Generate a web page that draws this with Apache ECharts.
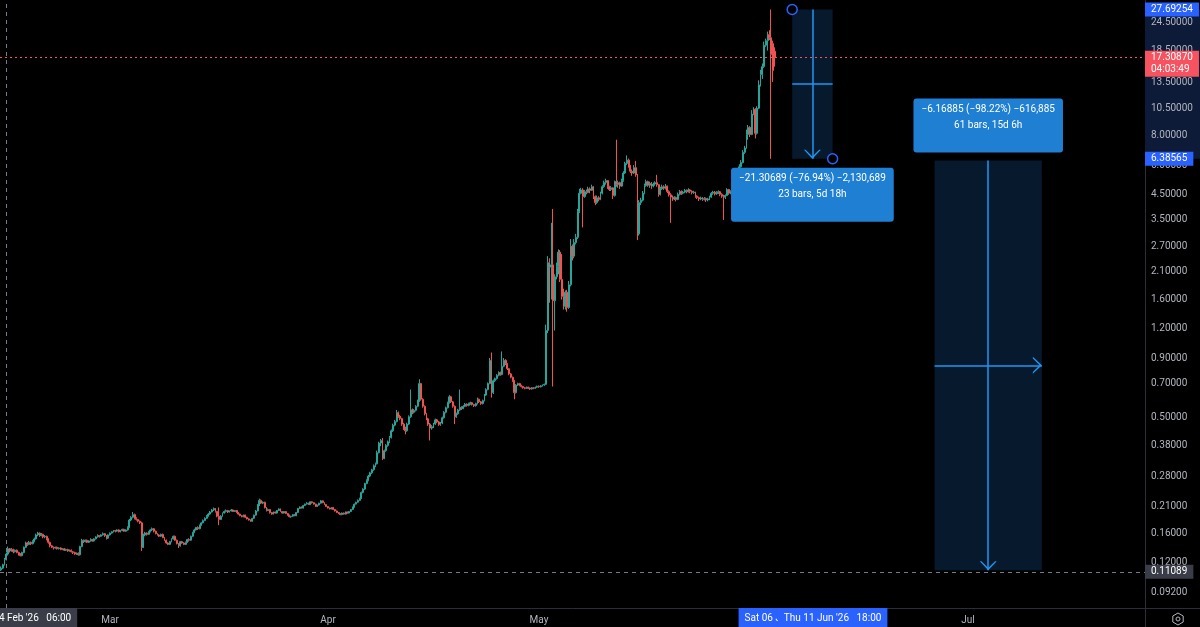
<!DOCTYPE html>
<html><head><meta charset="utf-8">
<script src="https://cdn.jsdelivr.net/npm/echarts@6/dist/echarts.min.js"></script>
<style>html,body{margin:0;padding:0;background:#000;}#c{width:1200px;height:627px;}</style>
</head><body><div id="c"></div><script>
// ---------- DATA ----------
const barStartUTC = Date.UTC(2026,1,13,12,0);
const barStepMs = 6*3600*1000;           // 6h bars
// rows: [open, close, low, high]
const ohlcPart1 = [
[0.112,0.114,0.111,0.116],[0.114,0.118,0.113,0.119],[0.118,0.124,0.117,0.126],[0.124,0.131,0.123,0.133],[0.131,0.138,0.129,0.141],
[0.138,0.135,0.133,0.139],[0.135,0.137,0.134,0.139],[0.137,0.134,0.132,0.138],[0.134,0.136,0.133,0.137],[0.136,0.133,0.132,0.137],
[0.133,0.131,0.129,0.134],[0.131,0.129,0.128,0.132],[0.129,0.133,0.128,0.134],[0.133,0.140,0.132,0.141],[0.140,0.146,0.139,0.148],
[0.146,0.144,0.142,0.147],[0.144,0.147,0.143,0.149],[0.147,0.145,0.143,0.148],[0.145,0.148,0.144,0.150],[0.148,0.152,0.147,0.154],
[0.152,0.158,0.151,0.160],[0.158,0.161,0.156,0.163],[0.161,0.157,0.155,0.162],[0.157,0.159,0.156,0.161],[0.159,0.155,0.153,0.160],
[0.155,0.156,0.153,0.158],[0.156,0.152,0.150,0.157],[0.152,0.147,0.145,0.153],[0.147,0.142,0.140,0.148],[0.142,0.140,0.139,0.143],
[0.140,0.139,0.137,0.141],[0.139,0.140,0.138,0.141],[0.140,0.138,0.137,0.141],[0.138,0.139,0.137,0.140],[0.139,0.137,0.136,0.140],
[0.137,0.138,0.136,0.139],[0.138,0.136,0.135,0.139],[0.136,0.137,0.135,0.138],[0.137,0.135,0.134,0.138],[0.135,0.136,0.134,0.137],
[0.136,0.134,0.133,0.137],[0.134,0.133,0.131,0.135],[0.133,0.131,0.130,0.134],[0.131,0.132,0.130,0.133],[0.132,0.130,0.129,0.133],
[0.130,0.141,0.129,0.142],[0.141,0.150,0.140,0.152]
];
const ohlcPart2 = [
[0.150,0.148,0.146,0.151],[0.148,0.150,0.147,0.151],[0.150,0.147,0.146,0.151],[0.147,0.149,0.146,0.150],[0.149,0.151,0.148,0.153],
[0.151,0.149,0.148,0.152],[0.149,0.152,0.148,0.153],[0.152,0.155,0.151,0.156],[0.155,0.157,0.154,0.159],[0.157,0.156,0.154,0.158],
[0.156,0.158,0.155,0.159],[0.158,0.160,0.157,0.162],[0.160,0.157,0.155,0.161],[0.157,0.153,0.151,0.158],[0.153,0.158,0.152,0.159],
[0.158,0.161,0.157,0.162],[0.161,0.163,0.160,0.164],[0.163,0.165,0.162,0.166],[0.165,0.164,0.162,0.166],[0.164,0.166,0.163,0.167],
[0.166,0.163,0.162,0.167],[0.163,0.165,0.162,0.166],[0.165,0.167,0.164,0.168],[0.167,0.164,0.163,0.168],[0.164,0.166,0.163,0.167],
[0.166,0.170,0.165,0.172],[0.170,0.183,0.169,0.185],[0.183,0.188,0.181,0.190],[0.188,0.193,0.186,0.198],[0.193,0.186,0.184,0.195],
[0.186,0.184,0.182,0.188],[0.184,0.181,0.179,0.185],[0.181,0.178,0.176,0.182],[0.178,0.140,0.135,0.180],[0.140,0.158,0.139,0.160],
[0.158,0.161,0.156,0.163],[0.161,0.159,0.157,0.162],[0.159,0.163,0.158,0.164],[0.163,0.166,0.162,0.167],[0.166,0.168,0.164,0.170],
[0.168,0.164,0.162,0.169],[0.164,0.160,0.159,0.165],[0.160,0.158,0.157,0.161],[0.158,0.156,0.155,0.159],[0.156,0.159,0.155,0.160],
[0.159,0.154,0.153,0.160],[0.154,0.150,0.149,0.155],[0.150,0.146,0.145,0.151],[0.146,0.144,0.143,0.147],[0.144,0.148,0.143,0.149],
[0.148,0.152,0.147,0.153],[0.152,0.156,0.151,0.157],[0.156,0.150,0.149,0.157],[0.150,0.145,0.144,0.151],[0.145,0.142,0.139,0.146],
[0.142,0.148,0.141,0.149],[0.148,0.146,0.145,0.149],[0.146,0.144,0.143,0.147],[0.144,0.147,0.143,0.148],[0.147,0.151,0.146,0.152],
[0.151,0.150,0.148,0.153],[0.150,0.156,0.149,0.157],[0.156,0.162,0.155,0.163],[0.162,0.166,0.161,0.168]
];
const ohlcPart3 = [
[0.166,0.170,0.165,0.171],[0.170,0.168,0.166,0.172],[0.168,0.174,0.167,0.175],[0.174,0.178,0.173,0.179],[0.178,0.182,0.177,0.184],
[0.182,0.186,0.181,0.188],[0.186,0.190,0.185,0.192],[0.190,0.194,0.189,0.196],[0.194,0.198,0.192,0.200],[0.198,0.202,0.197,0.204],
[0.202,0.205,0.200,0.207],[0.205,0.199,0.197,0.206],[0.199,0.190,0.188,0.200],[0.190,0.184,0.174,0.207],[0.184,0.190,0.183,0.192],
[0.190,0.196,0.189,0.197],[0.196,0.199,0.195,0.201],[0.199,0.201,0.197,0.203],[0.201,0.198,0.196,0.202],[0.198,0.200,0.197,0.201],
[0.200,0.202,0.199,0.204],[0.202,0.199,0.198,0.203],[0.199,0.201,0.198,0.202],[0.201,0.197,0.196,0.202],[0.197,0.194,0.193,0.198],
[0.194,0.191,0.190,0.195],[0.191,0.189,0.188,0.192],[0.189,0.192,0.188,0.193],[0.192,0.188,0.187,0.193],[0.188,0.185,0.184,0.189],
[0.185,0.183,0.182,0.186],[0.183,0.181,0.180,0.184],[0.181,0.186,0.180,0.187],[0.186,0.192,0.185,0.193],[0.192,0.200,0.191,0.202],
[0.200,0.212,0.199,0.214],[0.212,0.222,0.210,0.226],[0.222,0.216,0.214,0.224],[0.216,0.218,0.214,0.220],[0.218,0.207,0.205,0.219],
[0.207,0.201,0.199,0.208],[0.201,0.203,0.200,0.205],[0.203,0.197,0.195,0.204],[0.197,0.194,0.193,0.198],[0.194,0.198,0.193,0.199],
[0.198,0.196,0.195,0.199],[0.196,0.201,0.195,0.202],[0.201,0.204,0.200,0.205],[0.204,0.199,0.198,0.205],[0.199,0.196,0.195,0.200],
[0.196,0.199,0.195,0.200],[0.199,0.195,0.194,0.200],[0.195,0.192,0.191,0.196],[0.192,0.189,0.188,0.193],[0.189,0.190,0.187,0.191],
[0.190,0.193,0.189,0.194],[0.193,0.191,0.190,0.194],[0.191,0.197,0.190,0.198],[0.197,0.205,0.196,0.206],[0.205,0.208,0.204,0.209],
[0.208,0.206,0.205,0.209],[0.206,0.211,0.205,0.212],[0.211,0.214,0.210,0.215],[0.214,0.216,0.213,0.218],[0.216,0.213,0.212,0.217],
[0.213,0.219,0.212,0.220],[0.219,0.217,0.215,0.220],[0.217,0.214,0.213,0.218],[0.214,0.209,0.208,0.215],[0.209,0.212,0.208,0.213],
[0.212,0.216,0.211,0.217],[0.216,0.221,0.215,0.223],[0.221,0.217,0.216,0.222],[0.217,0.213,0.212,0.218],[0.213,0.209,0.208,0.214],
[0.209,0.206,0.205,0.210],[0.206,0.204,0.203,0.207],[0.204,0.207,0.203,0.208],[0.207,0.203,0.202,0.208],[0.203,0.200,0.199,0.204],
[0.200,0.197,0.196,0.201],[0.197,0.195,0.194,0.198],[0.195,0.193,0.192,0.196],[0.193,0.196,0.192,0.197],[0.196,0.194,0.193,0.197],
[0.194,0.198,0.193,0.199],[0.198,0.196,0.195,0.199],[0.196,0.199,0.195,0.200],[0.199,0.203,0.198,0.204],[0.203,0.208,0.202,0.209],
[0.208,0.214,0.207,0.215],[0.214,0.218,0.213,0.219],[0.218,0.222,0.217,0.224],[0.222,0.226,0.221,0.228],[0.226,0.240,0.225,0.242]
];
const ohlcPart4 = [
[0.240,0.248,0.238,0.250],[0.248,0.262,0.246,0.264],[0.262,0.270,0.260,0.273],[0.270,0.282,0.268,0.285],[0.282,0.291,0.279,0.294],
[0.291,0.300,0.288,0.303],[0.300,0.312,0.297,0.316],[0.312,0.318,0.308,0.322],[0.318,0.355,0.316,0.362],[0.355,0.390,0.352,0.395],
[0.390,0.400,0.378,0.406],[0.400,0.335,0.330,0.410],[0.335,0.362,0.333,0.366],[0.362,0.381,0.358,0.386],[0.381,0.395,0.376,0.400],
[0.395,0.412,0.390,0.418],[0.412,0.440,0.408,0.446],[0.440,0.465,0.435,0.472],[0.465,0.482,0.460,0.490],[0.482,0.525,0.478,0.540],
[0.525,0.508,0.500,0.532],[0.508,0.496,0.488,0.515],[0.496,0.470,0.462,0.500],[0.470,0.452,0.444,0.476],[0.452,0.440,0.425,0.458],
[0.440,0.470,0.436,0.476],[0.470,0.505,0.466,0.512],[0.505,0.540,0.500,0.660],[0.540,0.528,0.518,0.548],[0.528,0.538,0.522,0.545],
[0.538,0.560,0.532,0.566],[0.560,0.590,0.555,0.598],[0.590,0.700,0.585,0.730],[0.700,0.600,0.592,0.705],[0.600,0.560,0.552,0.606],
[0.560,0.520,0.512,0.565],[0.520,0.495,0.488,0.525],[0.495,0.470,0.462,0.500],[0.470,0.452,0.400,0.475],[0.452,0.458,0.445,0.465],
[0.458,0.470,0.452,0.476],[0.470,0.490,0.466,0.496],[0.490,0.480,0.474,0.494],[0.480,0.468,0.462,0.484],[0.468,0.475,0.462,0.480],
[0.475,0.500,0.470,0.506],[0.500,0.528,0.496,0.534],[0.528,0.552,0.522,0.558],[0.552,0.580,0.548,0.586],[0.580,0.615,0.575,0.625],
[0.615,0.585,0.578,0.620],[0.585,0.560,0.552,0.590],[0.560,0.505,0.470,0.565],[0.505,0.520,0.500,0.526],[0.520,0.540,0.515,0.546],
[0.540,0.555,0.535,0.660],[0.555,0.548,0.540,0.560],[0.548,0.560,0.544,0.566],[0.560,0.572,0.555,0.578],[0.572,0.565,0.558,0.576],
[0.565,0.575,0.560,0.580],[0.575,0.580,0.568,0.586],[0.580,0.570,0.564,0.584],[0.570,0.563,0.556,0.574],[0.563,0.575,0.558,0.580],
[0.575,0.600,0.570,0.610],[0.600,0.585,0.578,0.604],[0.585,0.575,0.568,0.590],[0.575,0.592,0.570,0.598],[0.592,0.625,0.588,0.632],
[0.625,0.660,0.620,0.668],[0.660,0.700,0.655,0.708],[0.700,0.880,0.695,0.900],[0.880,0.640,0.610,0.950],[0.640,0.720,0.632,0.728],
[0.720,0.735,0.710,0.742],[0.735,0.760,0.728,0.768],[0.760,0.780,0.752,0.790],[0.780,0.765,0.756,0.788],[0.765,0.830,0.760,0.960],
[0.830,0.880,0.822,0.900],[0.880,0.850,0.840,0.890],[0.850,0.810,0.800,0.856],[0.810,0.770,0.760,0.815],[0.770,0.745,0.738,0.776],
[0.745,0.720,0.712,0.750],[0.720,0.640,0.600,0.726],[0.640,0.690,0.635,0.696],[0.690,0.700,0.684,0.706],[0.700,0.688,0.682,0.705],
[0.688,0.680,0.674,0.692],[0.680,0.672,0.666,0.685],[0.672,0.668,0.662,0.676],[0.668,0.675,0.664,0.680],[0.675,0.670,0.665,0.679],
[0.670,0.664,0.658,0.674],[0.664,0.672,0.660,0.677],[0.672,0.668,0.662,0.676],[0.668,0.676,0.664,0.680],[0.676,0.682,0.671,0.686],
[0.682,0.678,0.672,0.687],[0.678,0.685,0.674,0.690],[0.685,0.690,0.680,0.694],[0.690,0.695,0.685,0.700]
];
const ohlcPart5 = [
[0.695,1.18,0.690,1.25],[1.18,2.30,1.15,2.45],[2.30,2.20,1.55,2.40],[2.20,2.25,1.60,3.40],[2.25,1.58,0.68,3.90],
[1.58,2.00,1.18,2.05],[2.00,2.22,1.95,2.30],[2.22,2.55,2.05,2.62],[2.55,1.95,1.90,2.60],[1.95,1.65,1.60,2.50],
[1.65,1.50,1.45,1.78],[1.50,1.72,1.45,1.75],[1.72,1.48,1.42,1.76],[1.48,1.85,1.46,1.92],[1.85,2.70,1.82,2.90],
[2.70,2.45,2.35,2.75],[2.45,2.80,2.40,2.90],[2.80,2.95,2.75,3.05],[2.95,3.80,2.90,3.90],[3.80,4.55,3.75,4.75],
[4.55,4.70,4.50,4.80],[4.70,4.40,3.25,4.78],[4.40,4.62,4.35,4.70],[4.62,4.58,4.50,4.72],[4.58,4.75,4.55,4.85],
[4.75,4.68,4.55,4.82],[4.68,4.85,4.65,4.95],[4.85,4.40,4.30,4.88],[4.40,4.15,4.05,4.45],[4.15,4.35,4.10,4.45],
[4.35,4.28,4.20,4.42],[4.28,4.55,4.25,4.62],[4.55,4.85,4.50,4.92],[4.85,5.05,4.80,5.15],[5.05,5.15,4.95,5.25],
[5.15,4.85,4.75,5.18],[4.85,4.72,4.65,4.90],[4.72,4.80,4.65,4.88],[4.80,4.45,4.30,4.82],[4.45,5.10,4.40,5.15],
[5.10,4.95,4.85,7.70],[4.95,5.05,4.80,5.15],[5.05,4.88,4.75,5.10],[4.88,5.15,4.85,5.25],[5.15,5.55,5.10,5.65],
[5.55,6.10,5.50,6.20],[6.10,6.30,6.00,6.60],[6.30,5.95,5.85,6.40],[5.95,5.65,5.55,6.00],[5.65,5.55,5.40,5.75],
[5.55,5.85,5.50,6.00],[5.85,5.45,5.35,6.25],[5.45,3.05,2.87,5.50],[3.05,4.15,3.00,4.25],[4.15,4.25,4.05,4.35],
[4.25,4.55,4.20,4.65],[4.55,4.90,4.50,5.00],[4.90,5.10,4.85,5.20],[5.10,4.92,4.85,5.15],[4.92,5.02,4.80,5.10],
[5.02,4.88,4.75,5.08],[4.88,4.98,4.82,5.05],[4.98,5.05,4.90,5.12],[5.05,4.95,4.85,5.45],[4.95,4.50,4.40,4.98],
[4.50,4.75,4.45,4.85],[4.75,4.85,4.70,4.95],[4.85,4.78,4.70,4.92],[4.78,4.88,4.72,4.98],[4.88,4.62,4.55,4.90],
[4.62,4.48,4.40,4.68],[4.48,4.38,3.40,4.55],[4.38,4.30,4.22,4.45],[4.30,4.36,4.25,4.42],[4.36,4.28,4.20,4.40],
[4.28,4.50,4.25,4.58],[4.50,4.62,4.45,4.70],[4.62,4.55,4.48,4.68],[4.55,4.60,4.50,4.66],[4.60,4.68,4.55,4.75],
[4.68,4.62,4.55,4.72],[4.62,4.70,4.58,4.78],[4.70,4.64,4.55,4.74],[4.64,4.58,4.50,4.68],[4.58,4.60,4.52,4.66],
[4.60,4.42,4.35,4.62],[4.42,4.36,4.30,4.46],[4.36,4.30,4.22,4.40],[4.30,4.34,4.25,4.40],[4.34,4.28,4.22,4.38],
[4.28,4.32,4.24,4.38],[4.32,4.26,4.18,4.36],[4.26,4.30,4.20,4.35],[4.30,4.38,4.25,4.44],[4.38,4.55,4.35,4.60],
[4.55,4.60,4.48,4.66],[4.60,4.52,4.45,4.65],[4.52,4.58,4.48,4.64],[4.58,4.62,4.52,4.68],[4.62,4.50,4.42,4.65],
[4.50,4.42,4.35,4.55],[4.42,4.38,3.50,4.48],[4.38,4.45,4.30,4.50],[4.45,4.72,4.42,4.78],[4.72,4.55,4.48,4.75],
[4.55,4.62,4.50,4.68],[4.62,4.58,4.52,4.66],[4.58,4.85,4.55,4.95],[4.85,5.20,4.80,5.30],[5.20,5.65,5.10,5.80],
[5.65,5.90,5.55,6.05],[5.90,6.15,5.85,6.30],[6.15,6.80,6.10,6.95],[6.80,7.10,6.70,7.25],[7.10,8.10,7.05,8.50],
[8.10,8.70,7.70,8.90],[8.70,8.10,7.90,8.80],[8.10,9.90,8.05,10.30],[9.90,10.40,9.80,10.60],[10.40,8.20,7.80,10.50],
[8.20,10.50,8.10,10.70],[10.50,13.20,10.40,13.80],[13.20,14.60,13.00,15.30],[14.60,15.80,14.00,16.30],[15.80,19.50,15.60,20.20],
[19.50,20.40,19.20,20.80],[20.40,21.60,18.50,22.30],[21.60,21.00,20.50,22.60],[21.00,17.80,6.38565,27.69254],[19.80,15.20,13.60,20.40],
[18.40,17.3087,15.80,19.10]
];
const priceTicks = [24.5,18.5,13.5,10.5,8,6,4.5,3.5,2.7,2.1,1.6,1.2,0.9,0.7,0.5,0.38,0.28,0.21,0.16,0.12,0.092];
const monthTicks = [Date.UTC(2026,2,1), Date.UTC(2026,3,1), Date.UTC(2026,4,1), Date.UTC(2026,6,1)];
const monthNames = ['Jan','Feb','Mar','Apr','May','Jun','Jul','Aug','Sep','Oct','Nov','Dec'];
const lastPrice = 17.3087;
const countdownText = '04:03:49';
const m1Times = [Date.UTC(2026,5,6,0,0), Date.UTC(2026,5,11,18,0)];
const m1Prices = [27.69254, 6.38565];
const m1Text = '−21.30689 (−76.94%) −2,130,689\n23 bars, 5d 18h';
const m2Times = [Date.UTC(2026,5,26,6,0), Date.UTC(2026,6,11,12,0)];
const m2Prices = [6.28060, 0.11175];
const m2Text = '−6.16885 (−98.22%) −616,885\n61 bars, 15d 6h';
const crossTime = Date.UTC(2026,1,14,6,0);
const crossPrice = 0.11089;
const crossTimeText = "14 Feb '26   06:00";
const rangeLabels = ["Sat 06 Jun '26   00:00", "Thu 11 Jun '26   18:00"];

// ---------- BUILD ----------
const ohlc = [].concat(ohlcPart1, ohlcPart2, ohlcPart3, ohlcPart4, ohlcPart5);
const bars = ohlc.map((r, i) => [barStartUTC + i * barStepMs, r[0], r[1], r[2], r[3]]);
const FONT = 'Roboto, "Noto Sans", sans-serif';
const yMin = 0.07705, yMax = 30.42;
const tMin = Date.UTC(2026,1,13,8,40), tMax = Date.UTC(2026,6,26,4,0);
const gray = '#b2b5be', axisCol = '#2a2e39', blue = '#2962ff', mBlue = '#2196f3', red = '#f7525f';
const chevron = 'path://M0,10L10,0L20,10L18,10L10,2.4L2,10Z';
const fmt = v => v.toFixed(5);
const m1Mid = (m1Times[0] + m1Times[1]) / 2, m2Mid = (m2Times[0] + m2Times[1]) / 2;
const g1 = Math.sqrt(m1Prices[0] * m1Prices[1]), g2 = Math.sqrt(m2Prices[0] * m2Prices[1]);
const noLine = {width: 0, color: 'rgba(0,0,0,0)'};
const arrowEnd = {symbol: chevron, symbolSize: [17, 9], symbolOffset: [0, 4.5]};
const infoBox = {show: true, color: '#fff', fontSize: 10, fontFamily: FONT, lineHeight: 16,
  backgroundColor: '#1f7fd3', borderRadius: 3, padding: [3, 8, 19, 8], align: 'center'};
const axisBox = (bg, txt, extra) => Object.assign({show: true, position: 'end', distance: 0, formatter: txt,
  color: '#fff', fontSize: 10, fontFamily: FONT, lineHeight: 12, backgroundColor: bg, padding: [1, 6]}, extra || {});
const timeBox = (bg, txt, extra) => Object.assign({show: true, position: 'start', distance: 0, formatter: txt,
  color: '#fff', fontSize: 10, fontFamily: FONT, lineHeight: 12, backgroundColor: bg, padding: [4, 6]}, extra || {});

const chart = echarts.init(document.getElementById('c'));
chart.setOption({
  backgroundColor: '#000',
  animation: false,
  useUTC: true,
  textStyle: {fontFamily: FONT},
  grid: [
    {left: 0, right: 55, top: 0, bottom: 19},
    {left: 1145, right: 0, top: 0, bottom: 19}
  ],
  xAxis: [
    {type: 'time', gridIndex: 0, min: tMin, max: tMax,
     axisLine: {show: true, lineStyle: {color: axisCol}}, axisTick: {show: false}, splitLine: {show: false},
     axisLabel: {show: false}},
    {type: 'value', gridIndex: 1, min: 0, max: 1,
     axisLine: {show: true, lineStyle: {color: axisCol}}, axisTick: {show: false}, splitLine: {show: false}, axisLabel: {show: false}}
  ],
  yAxis: [
    {type: 'log', logBase: 10, gridIndex: 0, min: yMin, max: yMax, position: 'right',
     axisLine: {show: true, onZero: false, lineStyle: {color: axisCol}}, axisTick: {show: false},
     splitLine: {show: false}, axisLabel: {show: false}},
    {type: 'log', logBase: 10, gridIndex: 1, min: yMin, max: yMax, show: false}
  ],
  graphic: [
    {type: 'line', silent: true, shape: {x1: 1145.5, y1: 608, x2: 1145.5, y2: 627}, style: {stroke: axisCol, lineWidth: 1}},
    {type: 'polygon', silent: true, shape: {points: [[1178,613],[1183.2,616],[1183.2,622],[1178,625],[1172.8,622],[1172.8,616]]},
     style: {fill: 'none', stroke: gray, lineWidth: 1}},
    {type: 'circle', silent: true, shape: {cx: 1178, cy: 619, r: 2}, style: {fill: 'none', stroke: gray, lineWidth: 1}}
  ],
  series: [
    {
      type: 'line', xAxisIndex: 1, yAxisIndex: 1, data: [], silent: true,
      markArea: {silent: true, z: 1, itemStyle: {color: '#0d1a38'},
        data: [[{yAxis: m1Prices[0]}, {yAxis: m1Prices[1]}]]}
    },
    {
      type: 'line', xAxisIndex: 0, yAxisIndex: 0, data: [], silent: true,
      markArea: {silent: true, z: 1, itemStyle: {color: '#07192d'},
        data: [
          [{coord: [m1Times[0], m1Prices[0]]}, {coord: [m1Times[1], m1Prices[1]]}],
          [{coord: [m2Times[0], m2Prices[0]]}, {coord: [m2Times[1], m2Prices[1]]}]
        ]},
      markLine: {silent: true, z: 4, symbol: 'none', label: {show: false},
        lineStyle: {color: mBlue, width: 1.5, type: 'solid'},
        data: [
          [{coord: [m1Mid, m1Prices[0]]}, Object.assign({coord: [m1Mid, m1Prices[1]]}, arrowEnd)],
          [{coord: [m1Times[0], g1]}, {coord: [m1Times[1], g1]}],
          [{coord: [m2Mid, m2Prices[0]]}, Object.assign({coord: [m2Mid, m2Prices[1]]}, arrowEnd)],
          [{coord: [m2Times[0], g2]}, Object.assign({coord: [m2Times[1], g2]}, arrowEnd)]
        ]},
      markPoint: {silent: true, z: 6,
        data: [
          {coord: [m1Times[0], m1Prices[0]], symbol: 'circle', symbolSize: 10,
           itemStyle: {color: '#000', borderColor: blue, borderWidth: 1.5}, label: {show: false}},
          {coord: [m1Times[1], m1Prices[1]], symbol: 'circle', symbolSize: 10,
           itemStyle: {color: '#000', borderColor: blue, borderWidth: 1.5}, label: {show: false}},
          {coord: [m1Mid, m1Prices[1]], symbol: 'circle', symbolSize: 0,
           label: Object.assign({}, infoBox, {position: 'bottom', distance: 9, formatter: m1Text})},
          {coord: [m2Mid, m2Prices[0]], symbol: 'circle', symbolSize: 0,
           label: Object.assign({}, infoBox, {position: 'top', distance: 8, formatter: m2Text})}
        ]}
    },
    {
      type: 'candlestick', name: 'price', xAxisIndex: 0, yAxisIndex: 0, z: 2,
      data: bars, encode: {x: 0, y: [1, 2, 3, 4]}, barWidth: 1.4, silent: true,
      itemStyle: {color: '#124a85', color0: '#7a2636', borderColor: '#26a69a', borderColor0: '#ef5350', borderWidth: 1}
    },
    {
      type: 'line', xAxisIndex: 0, yAxisIndex: 0, data: [], silent: true,
      markLine: {silent: true, z: 5, symbol: 'none', lineStyle: noLine,
        data: priceTicks.map(v => ({yAxis: v, label: {show: true, position: 'end', distance: 6, formatter: fmt(v),
          color: gray, fontSize: 10, fontFamily: FONT}})).concat(
          monthTicks.map(t => ({xAxis: t, label: {show: true, position: 'start', distance: 7,
            formatter: monthNames[new Date(t).getUTCMonth()], color: gray, fontSize: 10, fontFamily: FONT}})))}
    },
    {
      type: 'line', xAxisIndex: 0, yAxisIndex: 0, data: [], silent: true,
      markLine: {silent: true, z: 8, symbol: 'none',
        data: [
          {yAxis: crossPrice, lineStyle: {color: '#787b86', type: [4, 4], width: 1}, label: axisBox('#3a3d47', fmt(crossPrice))},
          {xAxis: crossTime, lineStyle: {color: '#787b86', type: [4, 4], width: 1}, label: timeBox('#3a3d47', crossTimeText, {offset: [26, 0]})},
          {xAxis: m1Times[0], lineStyle: noLine, label: timeBox(blue, rangeLabels[0])},
          {xAxis: m1Times[1], lineStyle: noLine, label: timeBox(blue, rangeLabels[1])},
          {yAxis: m1Prices[0], lineStyle: noLine, label: axisBox(blue, fmt(m1Prices[0]))},
          {yAxis: m1Prices[1], lineStyle: noLine, label: axisBox(blue, fmt(m1Prices[1]))},
          {yAxis: lastPrice, lineStyle: {color: red, type: [2, 3], width: 1},
           label: axisBox(red, fmt(lastPrice) + '\n' + countdownText, {offset: [0, 6.5]})}
        ]}
    }
  ]
});
</script></body></html>
